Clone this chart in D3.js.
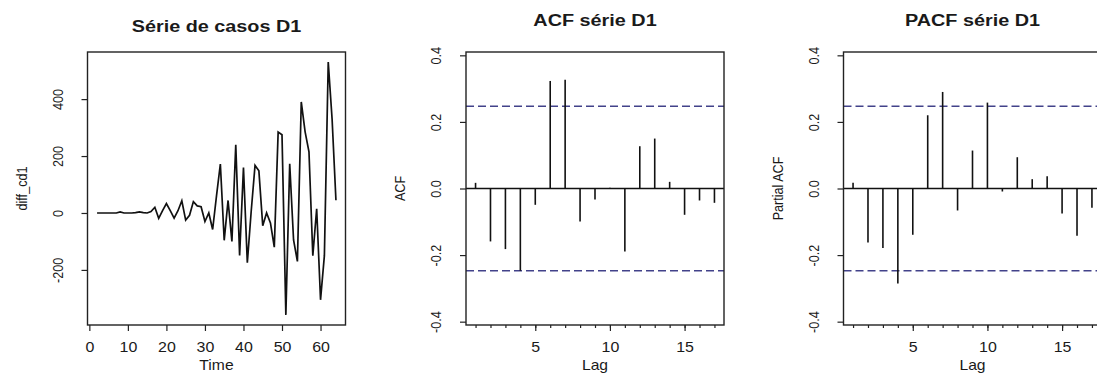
<!DOCTYPE html>
<html>
<head>
<meta charset="utf-8">
<script src="https://cdn.jsdelivr.net/npm/d3@7"></script>
<style>
  body { margin: 0; background: #fff; }
  svg { display: block; }
  text { font-family: "Liberation Sans", Arial, sans-serif; fill: #1a1a1a; }
</style>
</head>
<body>
<div id="chart"></div>
<script>
// time index and differenced series (diff_cd1)
const tsTime = [2, 3, 4, 5, 6, 7, 8, 9, 10, 11, 12, 13, 14, 15, 16, 17, 18, 19, 20, 21,
  22, 23, 24, 25, 26, 27, 28, 29, 30, 31, 32, 33, 34, 35, 36, 37, 38, 39, 40, 41,
  42, 43, 44, 45, 46, 47, 48, 49, 50, 51, 52, 53, 54, 55, 56, 57, 58, 59, 60, 61,
  62, 63, 64];
const tsValues = [0, 0, 0, 0, 0, 0, 4, 0, 0, 0, 1, 4, 1, 0,
  5, 20, -19, 8, 33, 8, -18, 8, 43, -25, -8, 40, 25, 22, -30, 0, -58, 60,
  172, -96, 44, -100, 240, -149, 160, -175, 5, 167, 148, -45, 0, -35, -120,
  284, 275, -358, 173, -95, -170, 390, 285, 215, -150, 15, -305, -150, 530, 330, 45];

// correlograms
const lags = [1, 2, 3, 4, 5, 6, 7, 8, 9, 10, 11, 12, 13, 14, 15, 16, 17];
const acfValues = [0.017, -0.159, -0.182, -0.247, -0.049, 0.323, 0.327, -0.099, -0.033,
  0.002, -0.189, 0.127, 0.150, 0.020, -0.079, -0.036, -0.043];
const pacfValues = [0.017, -0.162, -0.179, -0.285, -0.139, 0.220, 0.290, -0.066, 0.114,
  0.258, -0.009, 0.094, 0.028, 0.037, -0.075, -0.142, -0.058];
const ciBound = 0.247;

// axis ticks
const tsXTicks = [0, 10, 20, 30, 40, 50, 60];
const tsYTicks = [-200, 0, 200, 400];
const corrYTicks = [-0.4, -0.2, 0.0, 0.2, 0.4];
const lagTicks = [5, 10, 15];
const corrYLim = [-0.41, 0.41];

const W = 1097, H = 386;
const plotTop = 52, plotBottom = 325;

const svg = d3.select('#chart')
  .append('svg')
  .attr('width', W)
  .attr('height', H);

// R style axis range, 4% padding each side
function padded(ext) {
  const d = (ext[1] - ext[0]) * 0.04;
  return [ext[0] - d, ext[1] + d];
}

function addText(g, str, x, y, opts) {
  const o = Object.assign({ size: 14, sx: 1.12, rot: 0, weight: 'normal' }, opts);
  g.append('text')
    .attr('transform', `translate(${x},${y})` + (o.rot ? ` rotate(${o.rot})` : '') + ` scale(${o.sx},1)`)
    .attr('text-anchor', 'middle')
    .attr('font-size', o.size)
    .attr('font-weight', o.weight)
    .text(str);
}

function panelFrame(left, right, yScale, yTicks, yFmt, title, titleY, xLabel, yLabel) {
  const g = svg.append('g');
  const cx = (left + right) / 2;

  const yAxis = d3.axisLeft(yScale).tickValues(yTicks).tickSize(6).tickSizeOuter(0).tickFormat(yFmt);
  const ya = g.append('g')
    .attr('transform', `translate(${left},0)`)
    .call(yAxis);
  ya.select('.domain').remove();
  ya.selectAll('line').attr('stroke', '#222').attr('stroke-width', 1.2);
  ya.selectAll('text')
    .attr('x', null).attr('dy', null)
    .attr('text-anchor', 'middle')
    .attr('font-size', 14)
    .attr('fill', '#1a1a1a')
    .attr('transform', 'translate(-25,0) rotate(-90) scale(0.9,1)');

  addText(g, title, cx, titleY, { size: 16.8, sx: 1.18, weight: 'bold' });
  addText(g, xLabel, cx, 370, { size: 14 });
  addText(g, yLabel, left - 61, (plotTop + plotBottom) / 2, { size: 14.5, rot: -90, sx: 0.87 });
  return g;
}

function drawBox(g, left, right) {
  g.append('rect')
    .attr('x', left).attr('y', plotTop)
    .attr('width', right - left).attr('height', plotBottom - plotTop)
    .attr('fill', 'none')
    .attr('stroke', '#222')
    .attr('stroke-width', 1.4);
}

function styleBottomAxis(ax) {
  ax.select('.domain').remove();
  ax.selectAll('line').attr('stroke', '#222').attr('stroke-width', 1.2);
  ax.selectAll('text')
    .attr('y', null).attr('dy', null)
    .attr('font-size', 14)
    .attr('fill', '#1a1a1a')
    .attr('transform', 'translate(0,27) scale(1.14,1)');
}

// ---- panel 1: time series ----
{
  const left = 87.5, right = 345.5;
  const x = d3.scaleLinear().domain(padded(d3.extent(tsTime))).range([left, right]);
  const y = d3.scaleLinear().domain(padded(d3.extent(tsValues))).range([plotBottom, plotTop]);
  const g = panelFrame(left, right, y, tsYTicks, d => String(d), 'Série de casos D1', 32, 'Time', 'diff_cd1');

  const xa = g.append('g')
    .attr('transform', `translate(0,${plotBottom})`)
    .call(d3.axisBottom(x).tickValues(tsXTicks).tickSize(6).tickSizeOuter(0).tickFormat(d => String(d)));
  styleBottomAxis(xa);

  const line = d3.line()
    .x((d, i) => x(tsTime[i]))
    .y(d => y(d));
  g.append('path')
    .datum(tsValues)
    .attr('d', line)
    .attr('fill', 'none')
    .attr('stroke', '#111')
    .attr('stroke-width', 1.7)
    .attr('stroke-linejoin', 'miter');

  drawBox(g, left, right);
}

// ---- panels 2 and 3: correlograms ----
function correlogram(left, title, yLabel, values) {
  const right = left + 258;
  const x = d3.scaleLinear().domain(padded(d3.extent(lags))).range([left, right]);
  const y = d3.scaleLinear().domain(corrYLim).range([plotBottom, plotTop]);
  const g = panelFrame(left, right, y, corrYTicks, d => d.toFixed(1), title, 26, 'Lag', yLabel);

  // minor ticks at each lag
  const minor = g.append('g')
    .attr('transform', `translate(0,${plotBottom})`)
    .call(d3.axisBottom(x).tickValues(lags).tickSize(3).tickSizeOuter(0).tickFormat(''));
  minor.select('.domain').remove();
  minor.selectAll('line').attr('stroke', '#222').attr('stroke-width', 1.2);

  const xa = g.append('g')
    .attr('transform', `translate(0,${plotBottom})`)
    .call(d3.axisBottom(x).tickValues(lagTicks).tickSize(6).tickSizeOuter(0).tickFormat(d => String(d)));
  styleBottomAxis(xa);

  // zero line
  g.append('line')
    .attr('x1', left).attr('x2', right)
    .attr('y1', y(0)).attr('y2', y(0))
    .attr('stroke', '#111').attr('stroke-width', 1.4);

  // confidence bounds
  g.selectAll('line.ci')
    .data([ciBound, -ciBound])
    .enter()
    .append('line')
    .attr('class', 'ci')
    .attr('x1', left).attr('x2', right)
    .attr('y1', d => y(d)).attr('y2', d => y(d))
    .attr('stroke', '#42428a')
    .attr('stroke-width', 1.4)
    .attr('stroke-dasharray', '8,4');

  g.selectAll('line.bar')
    .data(values)
    .enter()
    .append('line')
    .attr('class', 'bar')
    .attr('x1', (d, i) => x(lags[i])).attr('x2', (d, i) => x(lags[i]))
    .attr('y1', y(0)).attr('y2', d => y(d))
    .attr('stroke', '#111')
    .attr('stroke-width', 1.6);

  drawBox(g, left, right);
}

correlogram(466, 'ACF série D1', 'ACF', acfValues);
correlogram(843.5, 'PACF série D1', 'Partial ACF', pacfValues);
</script>
</body>
</html>
